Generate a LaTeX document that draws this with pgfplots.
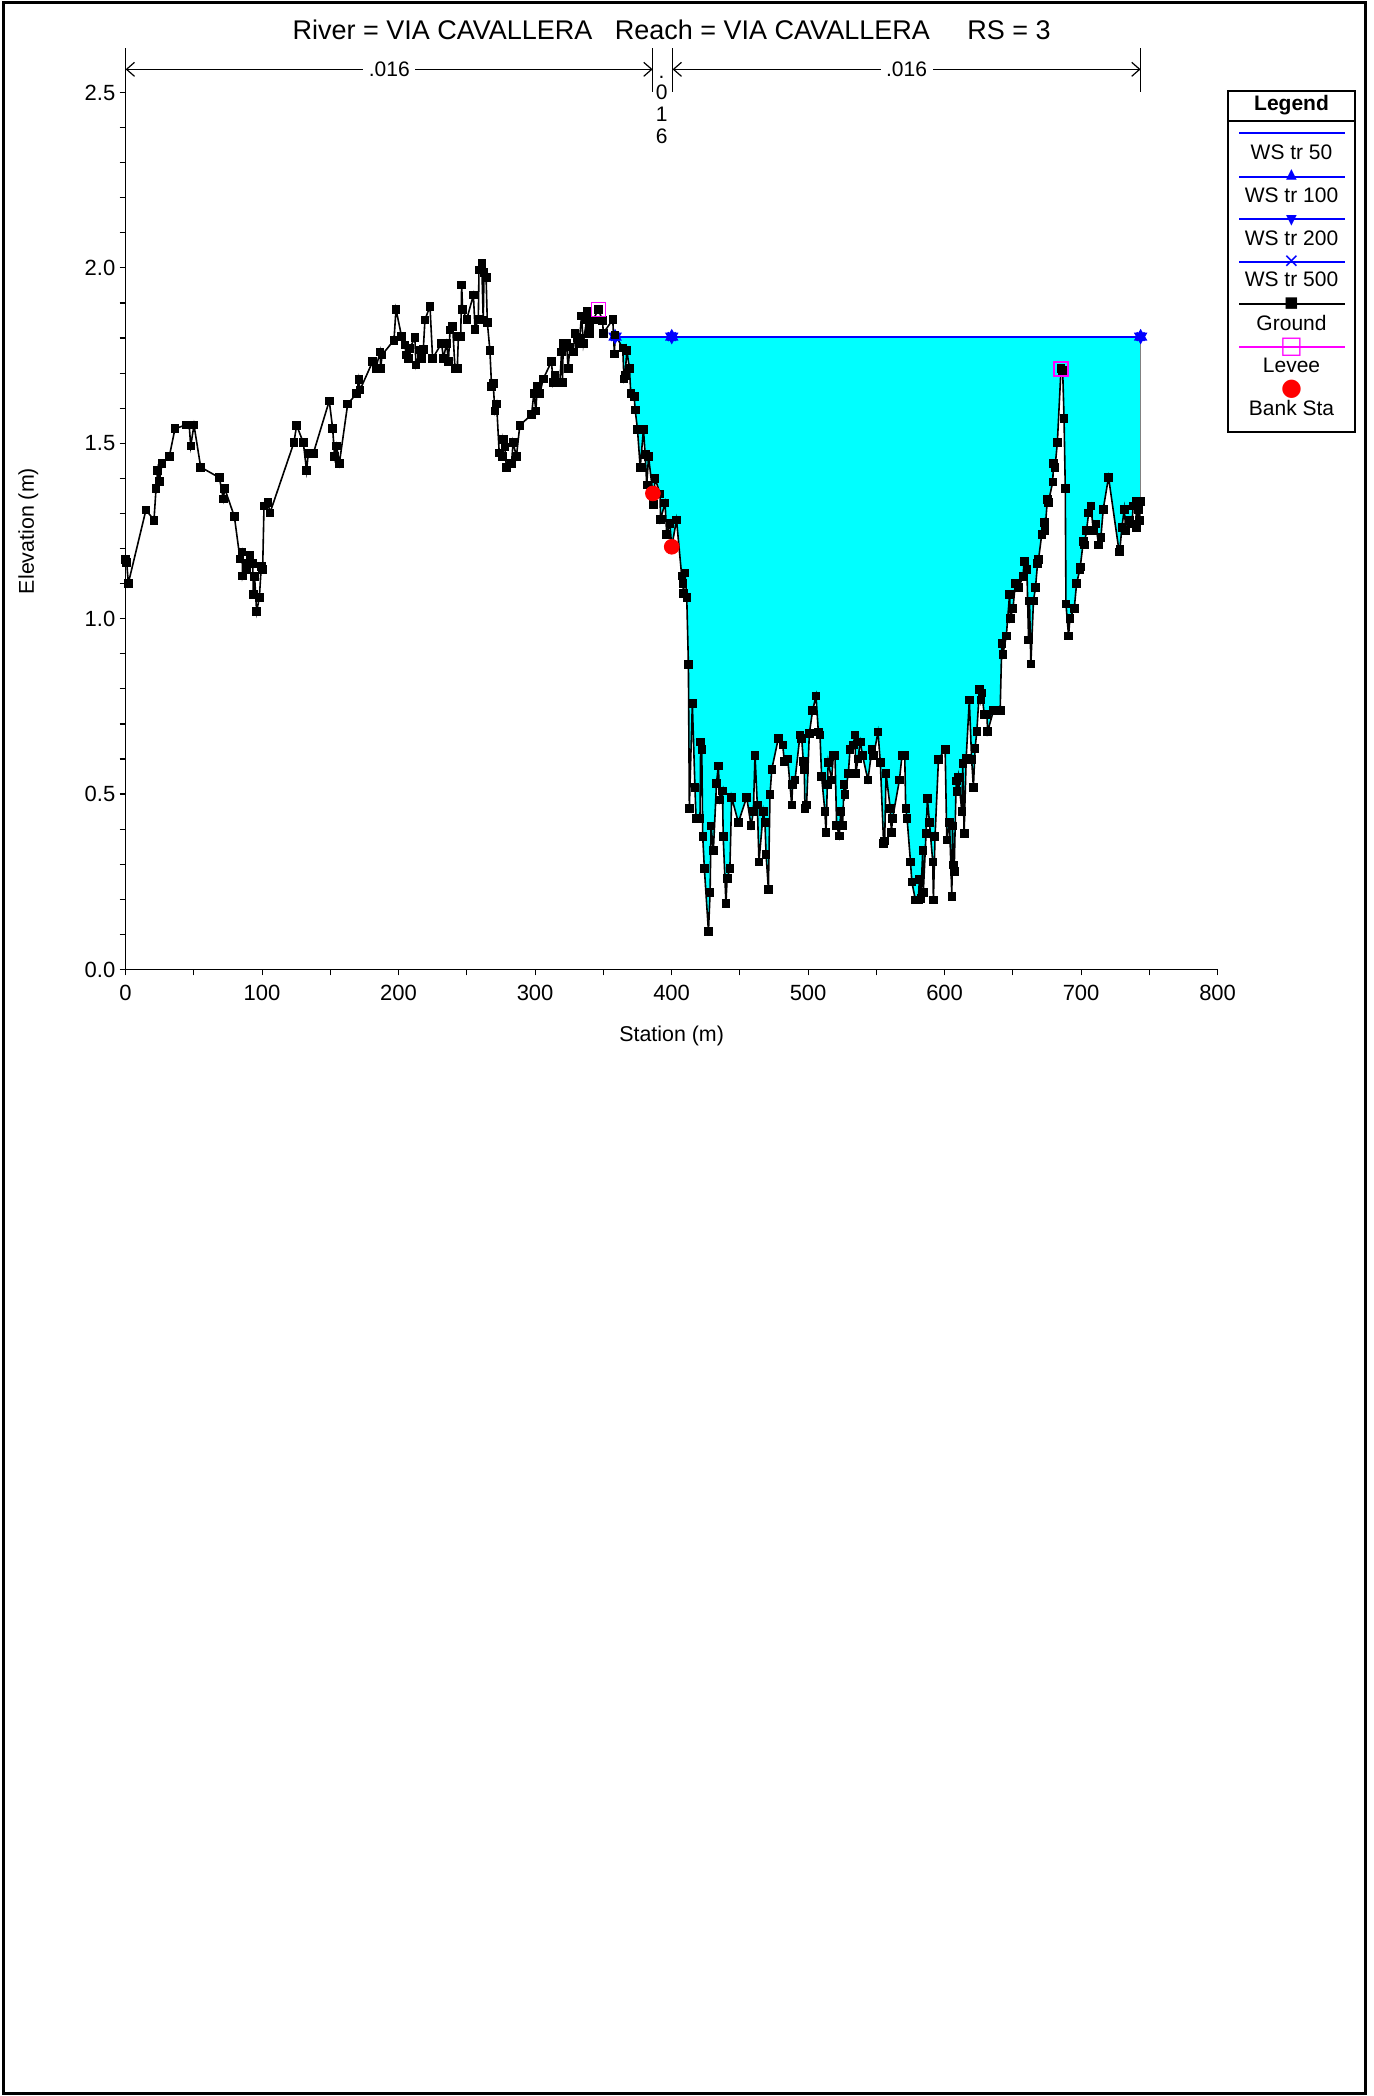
\documentclass[border=0pt]{standalone}
\usepackage{pgfplots}
\pgfplotsset{compat=1.18}
\usepackage{pgfplotstable}
\usepgfplotslibrary{fillbetween}
\usetikzlibrary{arrows.meta}
\usepackage{fontspec}
\setmainfont{Liberation Sans}
\newfontfamily\symfont{DejaVu Sans}
\newcommand\tickfont{\fontsize{11}{13}\selectfont}
\newcommand\labfont{\fontsize{10.7}{12}\selectfont}
\newcommand\legfont{\fontsize{10.5}{12}\selectfont}
\newcommand\nfont{\fontsize{10.5}{12}\selectfont}
\definecolor{wsblue}{RGB}{0,0,255}
\definecolor{levmag}{RGB}{255,0,255}
\definecolor{watercyan}{RGB}{0,255,255}

\pgfplotstableread{
x y
0.0 1.169
0.8 1.161
2.0 1.101
14.9 1.310
20.8 1.281
22.3 1.371
23.5 1.422
24.7 1.391
26.7 1.442
32.0 1.462
36.2 1.542
44.2 1.552
46.6 1.552
47.7 1.492
50.1 1.552
55.0 1.432
68.7 1.402
71.6 1.341
72.6 1.371
79.7 1.291
83.8 1.171
85.3 1.190
85.7 1.122
88.1 1.158
88.6 1.139
91.1 1.181
93.1 1.158
93.6 1.070
94.5 1.120
96.0 1.020
98.0 1.061
99.4 1.149
100.4 1.141
101.4 1.321
104.3 1.331
105.8 1.302
123.3 1.502
125.3 1.551
130.2 1.502
132.6 1.422
133.8 1.471
137.5 1.471
149.2 1.621
151.7 1.542
153.1 1.462
154.6 1.492
156.6 1.443
162.7 1.612
169.3 1.642
170.8 1.682
171.7 1.652
181.0 1.733
183.4 1.714
186.4 1.761
186.9 1.714
187.9 1.752
196.6 1.794
198.1 1.882
202.2 1.804
204.6 1.781
205.5 1.752
207.0 1.742
208.3 1.771
211.9 1.802
212.7 1.723
215.7 1.766
216.9 1.742
218.1 1.768
219.3 1.852
223.0 1.891
224.9 1.742
231.5 1.785
232.8 1.742
235.2 1.785
236.5 1.733
237.7 1.823
239.6 1.833
241.3 1.714
243.0 1.714
243.8 1.804
245.5 1.804
246.2 1.951
246.9 1.882
249.9 1.853
254.8 1.923
256.0 1.825
258.4 1.853
258.9 1.994
260.9 2.013
262.0 1.852
262.6 1.987
264.1 1.973
265.0 1.845
266.9 1.764
268.1 1.663
269.3 1.671
270.5 1.592
271.8 1.612
273.7 1.473
276.1 1.462
276.6 1.511
277.8 1.490
279.0 1.431
282.7 1.443
283.9 1.503
286.3 1.462
288.8 1.551
297.4 1.582
299.1 1.642
300.6 1.592
301.5 1.663
303.5 1.642
305.9 1.683
312.0 1.733
313.2 1.673
314.5 1.695
318.1 1.673
319.4 1.761
320.1 1.673
320.6 1.785
323.0 1.785
324.2 1.714
325.5 1.775
327.9 1.761
329.2 1.813
330.9 1.800
332.3 1.785
334.0 1.863
335.3 1.785
337.7 1.852
338.2 1.876
339.7 1.814
340.1 1.833
342.6 1.852
346.3 1.882
349.4 1.850
350.0 1.814
356.9 1.853
358.1 1.755
358.6 1.809
364.2 1.772
365.1 1.683
365.9 1.693
367.2 1.764
369.1 1.714
370.1 1.642
372.6 1.633
373.3 1.595
375.0 1.540
377.0 1.431
379.4 1.540
380.6 1.468
381.8 1.381
383.1 1.462
386.3 1.357
386.6 1.326
387.9 1.400
391.5 1.356
391.9 1.283
395.2 1.330
396.4 1.241
398.7 1.272
400.1 1.205
403.6 1.282
407.4 1.122
408.2 1.101
408.6 1.072
409.8 1.131
411.1 1.061
412.3 0.870
413.0 0.459
415.2 0.759
417.1 0.519
417.9 0.431
420.8 0.431
421.3 0.649
422.1 0.628
422.8 0.379
424.0 0.288
427.0 0.108
428.2 0.219
428.9 0.409
430.6 0.339
432.9 0.531
434.2 0.580
435.4 0.483
437.3 0.509
437.8 0.379
439.8 0.189
440.7 0.260
442.7 0.288
444.0 0.491
448.9 0.419
455.0 0.491
458.2 0.410
459.9 0.450
461.1 0.611
462.8 0.469
464.0 0.307
467.2 0.450
468.4 0.419
469.2 0.328
470.9 0.229
472.1 0.499
473.4 0.571
478.2 0.659
481.4 0.640
482.6 0.593
485.1 0.600
488.0 0.469
488.7 0.528
490.4 0.540
494.1 0.669
495.3 0.659
496.5 0.593
497.2 0.571
497.7 0.459
498.9 0.469
500.9 0.673
503.3 0.738
505.8 0.780
507.5 0.677
508.7 0.669
509.9 0.550
512.3 0.450
513.1 0.390
514.1 0.528
514.8 0.591
517.2 0.540
518.5 0.610
519.7 0.610
520.9 0.410
522.9 0.381
523.9 0.450
525.3 0.410
526.3 0.528
527.0 0.499
529.5 0.559
530.7 0.628
533.1 0.640
534.3 0.669
535.0 0.559
536.5 0.600
538.2 0.649
539.9 0.610
543.8 0.540
546.8 0.628
548.0 0.610
551.2 0.677
552.9 0.591
555.3 0.360
556.1 0.367
557.1 0.559
560.2 0.459
561.0 0.390
561.9 0.431
566.9 0.540
568.8 0.610
570.8 0.610
571.5 0.459
572.5 0.431
575.0 0.307
576.0 0.250
578.6 0.198
580.8 0.198
581.5 0.257
582.5 0.203
584.0 0.339
584.4 0.219
586.4 0.388
587.4 0.488
588.9 0.419
591.3 0.307
591.8 0.198
593.0 0.379
595.5 0.599
600.4 0.628
601.6 0.369
603.6 0.419
605.3 0.208
605.8 0.409
606.5 0.298
607.0 0.279
608.5 0.538
609.0 0.507
610.2 0.548
612.6 0.450
613.3 0.588
614.3 0.388
615.8 0.602
618.1 0.768
619.8 0.599
621.1 0.519
622.3 0.630
623.6 0.678
625.5 0.799
626.5 0.768
627.3 0.789
629.0 0.728
631.0 0.728
631.5 0.678
635.8 0.738
640.7 0.738
641.9 0.930
642.7 0.899
645.2 0.951
647.6 1.069
648.1 1.001
650.1 1.030
651.8 1.100
654.2 1.089
657.4 1.120
658.3 1.163
660.3 1.141
661.5 0.939
662.2 1.051
663.2 0.871
665.1 1.051
666.6 1.089
668.1 1.158
668.8 1.169
671.2 1.241
673.1 1.274
673.6 1.252
675.3 1.340
676.0 1.331
679.2 1.390
679.8 1.443
680.9 1.431
682.6 1.502
685.3 1.714
686.5 1.707
687.5 1.571
688.4 1.372
688.9 1.042
690.8 0.951
691.8 1.001
695.0 1.030
696.7 1.100
699.1 1.141
699.4 1.148
701.6 1.220
702.3 1.210
704.0 1.252
705.5 1.301
707.2 1.322
708.9 1.252
710.8 1.270
712.8 1.210
714.5 1.232
716.2 1.312
720.1 1.403
727.9 1.190
728.4 1.197
729.9 1.261
731.6 1.312
732.8 1.252
735.3 1.280
737.2 1.270
738.2 1.322
740.1 1.334
740.6 1.261
742.0 1.310
742.8 1.280
743.6 1.334
}\ground

\pgfplotstableread{
x y
358.6 1.804
400.1 1.804
743.6 1.804
}\ws

\pgfplotstableread{
x y
346.3 1.882
685.3 1.712
}\levee

\pgfplotstableread{
x y
386.3 1.357
400.1 1.205
}\bank

\begin{document}
\begin{tikzpicture}
\begin{axis}[
  at={(0pt,0pt)}, anchor=south west,
  scale only axis, width=546pt, height=438.5pt,
  xmin=0, xmax=800, ymin=0, ymax=2.5,
  enlargelimits=false, clip=false,
  axis lines=left, axis line style={-, line width=0.8pt},
  xtick={0,100,...,800}, minor x tick num=1,
  ytick={0,0.5,...,2.5}, minor y tick num=4,
  tick align=outside, major tick length=3pt, minor tick length=3pt,
  tick style={black, line width=0.6pt},
  /pgf/number format/assume math mode=true,
  every tick label/.append style={font=\tickfont},
  xticklabel style={yshift=-1.5pt},
  yticklabel style={/pgf/number format/fixed, /pgf/number format/fixed zerofill, /pgf/number format/precision=1, /tikz/xshift=1.4pt},
  every axis x label/.style={at={(axis description cs:0.5,-0.076)}, anchor=center, font=\labfont},
  every axis y label/.style={at={(axis description cs:-0.089,0.5)}, rotate=90, anchor=center, font=\labfont},
  xlabel={Station (m)}, ylabel={Elevation (m)},
]
% invisible paths for the water fill
\addplot[name path=groundpath, draw=none, forget plot] table[x=x,y=y] {\ground};
\addplot[name path=wspath, draw=none, forget plot] table[x=x,y=y] {\ws};
\addplot[watercyan, forget plot] fill between[of=wspath and groundpath, soft clip={domain=358.6:743.6}];
\addplot[gray, line width=0.5pt, forget plot] coordinates {(743.6,1.334) (743.6,1.804)};
% water surfaces
\addplot[wsblue, line width=1pt, no marks] table[x=x,y=y] {\ws};
\addplot[wsblue, line width=1pt, mark=triangle*, mark size=2.9pt, mark options={solid, fill=wsblue}] table[x=x,y=y] {\ws};
\addplot[wsblue, line width=1pt, mark=triangle*, mark size=2.9pt, mark options={solid, fill=wsblue, rotate=180}] table[x=x,y=y] {\ws};
\addplot[wsblue, line width=1pt, mark=x, mark size=2.9pt, mark options={solid}] table[x=x,y=y] {\ws};
% ground
\addplot[black, line width=0.8pt, mark=square*, mark size=1.9pt, mark options={solid, fill=black, line width=0.4pt}] table[x=x,y=y] {\ground};
% levees
\addplot[only marks, levmag, mark=square, mark size=3.5pt, mark options={line width=0.6pt}] table[x=x,y=y] {\levee};
% bank stations
\addplot[only marks, red, mark=*, mark size=3.7pt, mark options={fill=red, draw=red}] table[x=x,y=y] {\bank};

% Manning's n brackets
\draw[line width=0.6pt] (axis cs:0,2.502) -- (axis cs:0,2.626);
\draw[line width=0.6pt] (axis cs:386.1,2.502) -- (axis cs:386.1,2.626);
\draw[line width=0.6pt] (axis cs:400.7,2.502) -- (axis cs:400.7,2.626);
\draw[line width=0.6pt] (axis cs:743.6,2.502) -- (axis cs:743.6,2.626);
\draw[line width=0.6pt, {Straight Barb[length=4pt,width=7pt]}-{Straight Barb[length=4pt,width=7pt]}] (axis cs:0,2.566) -- (axis cs:386.1,2.566);
\draw[line width=0.6pt, {Straight Barb[length=4pt,width=7pt]}-{Straight Barb[length=4pt,width=7pt]}] (axis cs:400.7,2.566) -- (axis cs:743.6,2.566);
\node[fill=white, inner xsep=2.75pt, inner ysep=1pt, font=\nfont] at (axis cs:193.2,2.566) {.016};
\node[fill=white, inner xsep=2.75pt, inner ysep=1pt, font=\nfont] at (axis cs:572.15,2.566) {.016};
\node[anchor=base, inner sep=0pt, font=\nfont] at (axis cs:392.7,2.5407) {.};
\node[anchor=base, inner sep=0pt, font=\nfont] at (axis cs:392.7,2.4788) {0};
\node[anchor=base, inner sep=0pt, font=\nfont] at (axis cs:392.7,2.4169) {1};
\node[anchor=base, inner sep=0pt, font=\nfont] at (axis cs:392.7,2.3551) {6};
\end{axis}

% title
\node[anchor=base, inner sep=0pt, font=\fontsize{13.5}{16}\selectfont] at (273pt,465.2pt)
  {River = VIA CAVALLERA~~~Reach = VIA CAVALLERA~~~~~RS = 3};

% legend
\draw[line width=0.6pt] (551.2pt,268.75pt) rectangle (614.7pt,439.25pt);
\draw[line width=0.6pt] (551.2pt,424.25pt) -- (614.7pt,424.25pt);
\node[anchor=base, inner sep=0pt, font=\legfont\bfseries] at (582.95pt,429.5pt) {Legend};
% samples
\draw[wsblue, line width=0.8pt] (556.85pt,418.25pt) -- (609.7pt,418.25pt);
\draw[wsblue, line width=0.8pt] (556.85pt,396.25pt) -- (609.7pt,396.25pt);
\node[inner sep=0pt, text=wsblue, font=\symfont\fontsize{7}{7}\selectfont] at (582.95pt,397.4pt) {▲};
\draw[wsblue, line width=0.8pt] (556.85pt,375.25pt) -- (609.7pt,375.25pt);
\node[inner sep=0pt, text=wsblue, font=\symfont\fontsize{7}{7}\selectfont] at (582.95pt,374.1pt) {▼};
\draw[wsblue, line width=0.8pt] (556.85pt,353.75pt) -- (609.7pt,353.75pt);
\node[inner sep=0pt, text=wsblue, font=\symfont\fontsize{10}{10}\selectfont] at (582.95pt,353.75pt) {×};
\draw[black, line width=0.8pt] (556.85pt,332.75pt) -- (609.7pt,332.75pt);
\node[inner sep=0pt, text=black, font=\symfont\fontsize{7.5}{7.5}\selectfont] at (582.95pt,332.75pt) {■};
\draw[levmag, line width=0.8pt] (556.85pt,311.25pt) -- (609.7pt,311.25pt);
\node[inner sep=0pt, text=levmag, font=\symfont\fontsize{12}{12}\selectfont] at (582.95pt,311.25pt) {□};
\node[inner sep=0pt, text=red, font=\symfont\fontsize{12}{12}\selectfont] at (582.95pt,290.25pt) {●};
% texts
\node[anchor=base, inner sep=0pt, font=\legfont] at (582.95pt,405.0pt) {WS tr 50};
\node[anchor=base, inner sep=0pt, font=\legfont] at (582.95pt,383.5pt) {WS tr 100};
\node[anchor=base, inner sep=0pt, font=\legfont] at (582.95pt,362.0pt) {WS tr 200};
\node[anchor=base, inner sep=0pt, font=\legfont] at (582.95pt,341.5pt) {WS tr 500};
\node[anchor=base, inner sep=0pt, font=\legfont] at (582.95pt,319.5pt) {Ground};
\node[anchor=base, inner sep=0pt, font=\legfont] at (582.95pt,298.5pt) {Levee};
\node[anchor=base, inner sep=0pt, font=\legfont] at (582.95pt,277.0pt) {Bank Sta};

% page frame and exact page size
\draw[line width=1.5pt] (-60.8pt,-561.75pt) rectangle (619.7pt,483.25pt);
\path (-62.8pt,-563.25pt) rectangle (624.2pt,484.75pt);
\end{tikzpicture}
\end{document}
